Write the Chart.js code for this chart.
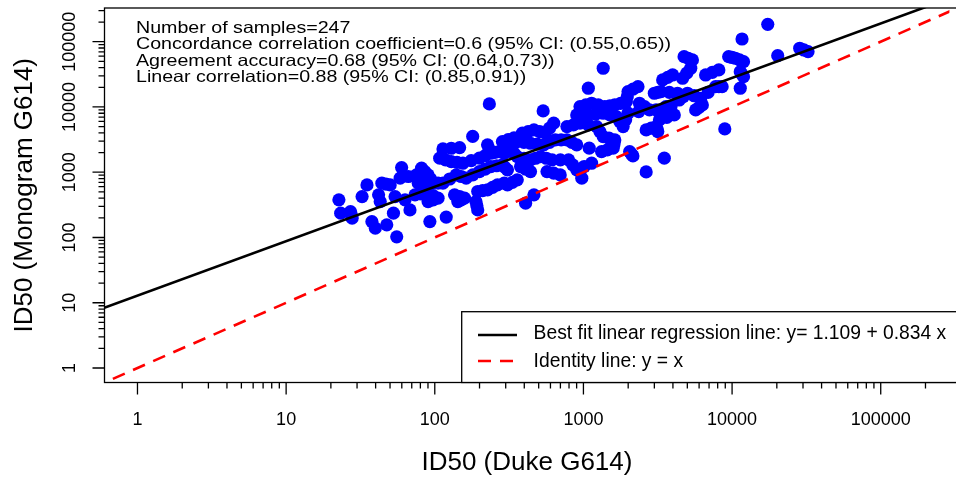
<!DOCTYPE html>
<html>
<head>
<meta charset="utf-8">
<title>ID50 Monogram vs Duke G614</title>
<script src="https://cdn.jsdelivr.net/npm/chart.js@4.4.1/dist/chart.umd.min.js"></script>
<style>
  html, body { margin: 0; padding: 0; background: #fff; }
  #wrap { width: 956px; height: 481px; }
</style>
</head>
<body>
<div id="wrap"><canvas id="idChart" width="956" height="481"></canvas></div>
<script>
// log10 ID50 titers: Duke assay (x) and Monogram assay (y), same order
var dukeLog10 = [
  1.355, 1.367, 1.433, 1.444, 1.511, 1.544, 1.577, 1.600, 1.644, 1.622,
  1.633, 1.677, 1.700, 1.722, 1.733, 1.744, 1.767, 1.777, 1.800, 1.833,
  1.867, 1.877, 1.889, 1.911, 1.955, 1.989, 1.955, 2.022, 1.955, 2.033,
  2.055, 2.055, 2.111, 2.133, 2.144, 2.155, 2.167, 2.189, 2.200, 2.211,
  1.967, 2.077, 2.255, 2.367, 2.277, 2.289, 2.289, 2.300, 2.300, 2.355,
  2.355, 2.377, 2.377, 2.422, 2.433, 2.455, 2.455, 2.489, 2.511, 2.533,
  2.467, 2.555, 2.555, 2.489, 2.577, 2.467, 2.555, 2.589, 2.611, 2.667,
  2.644, 2.644, 2.644, 2.667, 2.729, 2.711, 2.733, 2.744, 2.755, 2.789,
  2.800, 2.811, 2.844, 2.889, 2.889, 2.900, 2.955, 2.955, 2.955, 2.977,
  2.977, 2.989, 3.033, 3.033, 3.055, 3.055, 3.089, 3.122, 3.133, 3.133,
  3.133, 3.144, 3.200, 3.211, 3.211, 3.222, 3.267, 3.289, 3.300, 3.300,
  3.311, 3.333, 3.367, 3.377, 3.422, 3.422, 3.444, 3.477, 3.489, 3.533,
  3.533, 3.544, 3.589, 3.600, 3.500, 3.511, 3.522, 3.555, 3.611, 3.633,
  3.644, 3.667, 3.677, 3.700, 3.722, 3.733, 3.755, 3.789, 3.800, 3.822,
  3.889, 3.911, 3.933, 3.951, 3.977, 4.022, 4.055, 4.055, 4.067, 4.077,
  4.077, 4.240, 4.307, 4.455, 4.511,
  1.972, 2.022, 1.989, 1.989, 1.911, 1.916, 1.939, 1.933, 2.072, 2.111,
  2.150, 2.167, 2.178, 2.178, 2.100, 2.245, 2.256, 2.322, 2.283, 2.339,
  2.339, 2.366, 2.389, 2.416, 2.405, 2.472, 2.494, 2.472, 2.522, 2.533,
  2.544, 2.600, 2.611, 2.600, 2.628, 2.689, 2.678, 2.706, 2.750, 2.772,
  2.772, 2.800, 2.845, 2.850, 2.933, 2.922, 2.928, 2.994, 3.039, 3.005,
  3.016, 3.033, 3.083, 3.100, 3.111, 3.161, 3.178, 3.172, 3.178, 3.206,
  3.245, 3.284, 3.250, 3.295, 3.334, 3.372, 3.322, 3.411, 3.456, 3.489,
  3.500, 3.495, 3.567, 3.561, 3.561, 3.578, 3.639, 3.672, 3.695, 3.705,
  3.745, 3.778, 3.839, 3.867, 3.911, 4.000, 4.050, 4.066, 4.483, 1.672,
  1.822, 1.439
];
var monogramLog10 = [
  2.577, 2.373, 2.397, 2.296, 2.627, 2.806, 2.244, 2.143, 2.832, 2.653,
  2.550, 2.194, 2.806, 2.373, 2.627, 2.010, 2.909, 3.071, 2.577, 2.423,
  2.653, 2.959, 2.832, 3.062, 2.959, 2.832, 2.679, 2.603, 2.550, 3.215,
  3.357, 2.832, 3.163, 2.653, 2.959, 2.550, 3.377, 3.138, 2.603, 2.909,
  2.244, 2.312, 3.549, 4.046, 2.550, 2.423, 2.704, 3.010, 3.215, 3.419,
  2.730, 3.086, 3.291, 2.806, 3.316, 3.469, 3.112, 2.806, 3.342, 3.526,
  3.291, 3.469, 3.239, 3.036, 3.086, 2.832, 2.883, 3.598, 2.526, 2.653,
  3.444, 3.189, 3.010, 3.648, 3.939, 3.239, 3.419, 3.598, 3.010, 3.189,
  3.751, 3.495, 2.959, 3.699, 3.495, 3.189, 3.878, 3.419, 3.036, 4.005,
  3.751, 2.909, 4.287, 3.878, 4.057, 3.138, 3.699, 3.316, 4.593, 3.904,
  3.546, 4.005, 3.368, 4.031, 3.495, 3.852, 3.699, 4.081, 4.235, 3.904,
  3.316, 3.250, 4.311, 4.057, 3.648, 3.005, 3.954, 4.210, 3.699, 4.414,
  3.954, 3.215, 4.005, 4.490, 3.622, 3.801, 4.235, 4.005, 3.878, 4.210,
  4.107, 4.440, 4.770, 4.210, 4.593, 4.720, 3.954, 4.133, 4.031, 4.490,
  4.311, 4.567, 4.311, 3.663, 4.770, 4.746, 4.541, 4.287, 5.041, 4.694,
  4.464, 5.266, 4.786, 4.899, 4.847,
  2.896, 2.832, 2.641, 2.577, 2.666, 2.959, 2.832, 3.010, 3.189, 3.367,
  3.150, 2.628, 2.934, 2.577, 2.896, 3.177, 2.960, 2.717, 2.487, 3.048,
  3.253, 3.355, 2.768, 3.099, 3.304, 3.329, 3.498, 3.074, 2.845, 3.291,
  3.498, 3.214, 3.048, 3.457, 3.623, 3.432, 3.214, 3.623, 3.214, 3.457,
  3.675, 2.985, 3.189, 3.495, 3.725, 3.457, 3.113, 3.878, 3.368, 3.087,
  4.031, 3.725, 3.891, 4.031, 3.623, 3.342, 3.878, 3.521, 4.018, 3.432,
  3.776, 3.802, 4.056, 4.158, 4.273, 3.929, 3.283, 4.006, 3.674, 3.954,
  4.223, 3.661, 4.452, 3.980, 3.840, 4.223, 4.159, 4.159, 4.517, 4.745,
  4.172, 3.993, 4.222, 4.529, 4.311, 4.758, 4.720, 4.503, 4.873, 2.819,
  2.934, 2.347
];

// the two reference lines, end points in ID50 units
var fitX = [0.5, 400000];
var fitY = [7.21, 604000];
var identityX = [0.5, 400000];
var identityY = [0.5, 400000];

// axis ranges and decade labels
var xMin = 0.61, xMax = 289700;
var yMin = 0.606, yMax = 328100;
var xTickLabels = ['1', '10', '100', '1000', '10000', '100000'];
var yTickLabels = ['1', '10', '100', '1000', '10000', '100000'];

var statLines = [
  'Number of samples=247',
  'Concordance correlation coefficient=0.6 (95% CI: (0.55,0.65))',
  'Agreement accuracy=0.68 (95% CI: (0.64,0.73))',
  'Linear correlation=0.88 (95% CI: (0.85,0.91))'
];
var legendLabels = [
  'Best fit linear regression line: y= 1.109 + 0.834 x',
  'Identity line: y = x'
];

var FONT = '"Liberation Sans", Arial, Helvetica, sans-serif';
Chart.defaults.font.family = FONT;
Chart.defaults.color = '#000';

function logTicks(lo, hi) {
    var out = [];
    for (var e = -1; e <= 6; e++) {
        for (var m = 1; m <= 9; m++) {
            var v = m * Math.pow(10, e);
            if (v >= lo && v <= hi) out.push({value: v});
        }
    }
    return out;
}
function isDecade(v) {
    var l = Math.log10(v);
    return Math.abs(l - Math.round(l)) < 1e-9;
}
function decadeLabel(labels) {
    return function (v) {
        if (!isDecade(v)) return '';
        var i = Math.round(Math.log10(v));
        return labels[i] !== undefined ? labels[i] : '';
    };
}

var points = dukeLog10.map(function (d, i) {
    return {x: Math.pow(10, d), y: Math.pow(10, monogramLog10[i])};
});
var fitLine = fitX.map(function (x, i) { return {x: x, y: fitY[i]}; });
var identityLine = identityX.map(function (x, i) { return {x: x, y: identityY[i]}; });

// R style box, tick marks, stats text and legend
var rStyle = {
    id: 'rStyle',
    afterDraw: function (chart) {
        var ctx = chart.ctx, a = chart.chartArea;
        var xs = chart.scales.x, ys = chart.scales.y;
        ctx.save();
        ctx.strokeStyle = '#000';
        ctx.lineWidth = 1.3;
        ctx.strokeRect(a.left, a.top, a.right - a.left + 10, a.bottom - a.top);

        ctx.beginPath();
        xs.ticks.forEach(function (t) {
            var px = xs.getPixelForValue(t.value);
            ctx.moveTo(px, a.bottom);
            ctx.lineTo(px, a.bottom + (isDecade(t.value) ? 12 : 6));
        });
        ys.ticks.forEach(function (t) {
            var py = ys.getPixelForValue(t.value);
            ctx.moveTo(a.left, py);
            ctx.lineTo(a.left - (isDecade(t.value) ? 12 : 6), py);
        });
        ctx.stroke();

        ctx.fillStyle = '#000';
        ctx.textAlign = 'left';
        ctx.textBaseline = 'alphabetic';
        ctx.font = '16.5px ' + FONT;
        var tx = xs.getPixelForValue(1) - 1.5;
        statLines.forEach(function (s, i) {
            ctx.save();
            ctx.translate(tx, 32.7 + i * 16.5);
            ctx.scale(1.19, 1);
            ctx.fillText(s, 0, 0);
            ctx.restore();
        });

        var bx = 461.7, by = 311.7;
        ctx.fillStyle = '#fff';
        ctx.fillRect(bx, by, 600, a.bottom - by);
        ctx.lineWidth = 1.3;
        ctx.strokeStyle = '#000';
        ctx.strokeRect(bx, by, 600, a.bottom - by);

        ctx.lineWidth = 2.6;
        ctx.beginPath();
        ctx.moveTo(478, 335); ctx.lineTo(517, 335);
        ctx.stroke();
        ctx.strokeStyle = '#ff0000';
        ctx.setLineDash([13, 9]);
        ctx.beginPath();
        ctx.moveTo(478, 361); ctx.lineTo(517, 361);
        ctx.stroke();
        ctx.setLineDash([]);

        ctx.fillStyle = '#000';
        ctx.font = '19.3px ' + FONT;
        ctx.fillText(legendLabels[0], 533.6, 339.3);
        ctx.fillText(legendLabels[1], 533.6, 366.5);
        ctx.restore();
    }
};

new Chart(document.getElementById('idChart'), {
    type: 'scatter',
    data: {
        datasets: [
            {
                type: 'line',
                data: fitLine,
                borderColor: '#000',
                borderWidth: 2.6,
                pointRadius: 0,
                fill: false,
                clip: 0,
                order: 0
            },
            {
                type: 'line',
                data: identityLine,
                borderColor: '#ff0000',
                borderWidth: 2.6,
                borderDash: [13, 9],
                pointRadius: 0,
                fill: false,
                clip: 0,
                order: 0
            },
            {
                data: points,
                backgroundColor: '#0000ff',
                borderWidth: 0,
                pointRadius: 6.6,
                pointHoverRadius: 6.6,
                order: 1
            }
        ]
    },
    options: {
        responsive: false,
        devicePixelRatio: 1,
        animation: false,
        events: [],
        layout: {padding: {top: 8, right: 0, bottom: 0, left: 0}},
        plugins: {legend: {display: false}, tooltip: {enabled: false}},
        scales: {
            x: {
                type: 'logarithmic',
                min: xMin,
                max: xMax,
                afterBuildTicks: function (s) { s.ticks = logTicks(1, xMax); },
                afterFit: function (s) {
                    s.height = 98.5;
                    s.paddingLeft = 0; s.paddingRight = 0;
                },
                grid: {display: false, drawTicks: false},
                border: {display: false},
                ticks: {
                    autoSkip: false,
                    minRotation: 0,
                    maxRotation: 0,
                    padding: 26.4,
                    font: {size: 18},
                    callback: decadeLabel(xTickLabels)
                },
                title: {
                    display: true,
                    text: 'ID50 (Duke G614)',
                    font: {size: 26},
                    padding: {top: 0, bottom: 2.4}
                }
            },
            y: {
                type: 'logarithmic',
                min: yMin,
                max: yMax,
                afterBuildTicks: function (s) { s.ticks = logTicks(1, yMax); },
                afterFit: function (s) {
                    s.width = 104.5;
                    s.paddingTop = 0; s.paddingBottom = 0;
                },
                grid: {display: false, drawTicks: false},
                border: {display: false},
                ticks: {
                    autoSkip: false,
                    minRotation: 90,
                    maxRotation: 90,
                    crossAlign: 'center',
                    padding: 4.5,
                    font: {size: 18},
                    callback: decadeLabel(yTickLabels)
                },
                title: {
                    display: true,
                    text: 'ID50 (Monogram G614)',
                    font: {size: 26},
                    padding: {top: 9.4, bottom: 0}
                }
            }
        }
    },
    plugins: [rStyle]
});
</script>
</body>
</html>
